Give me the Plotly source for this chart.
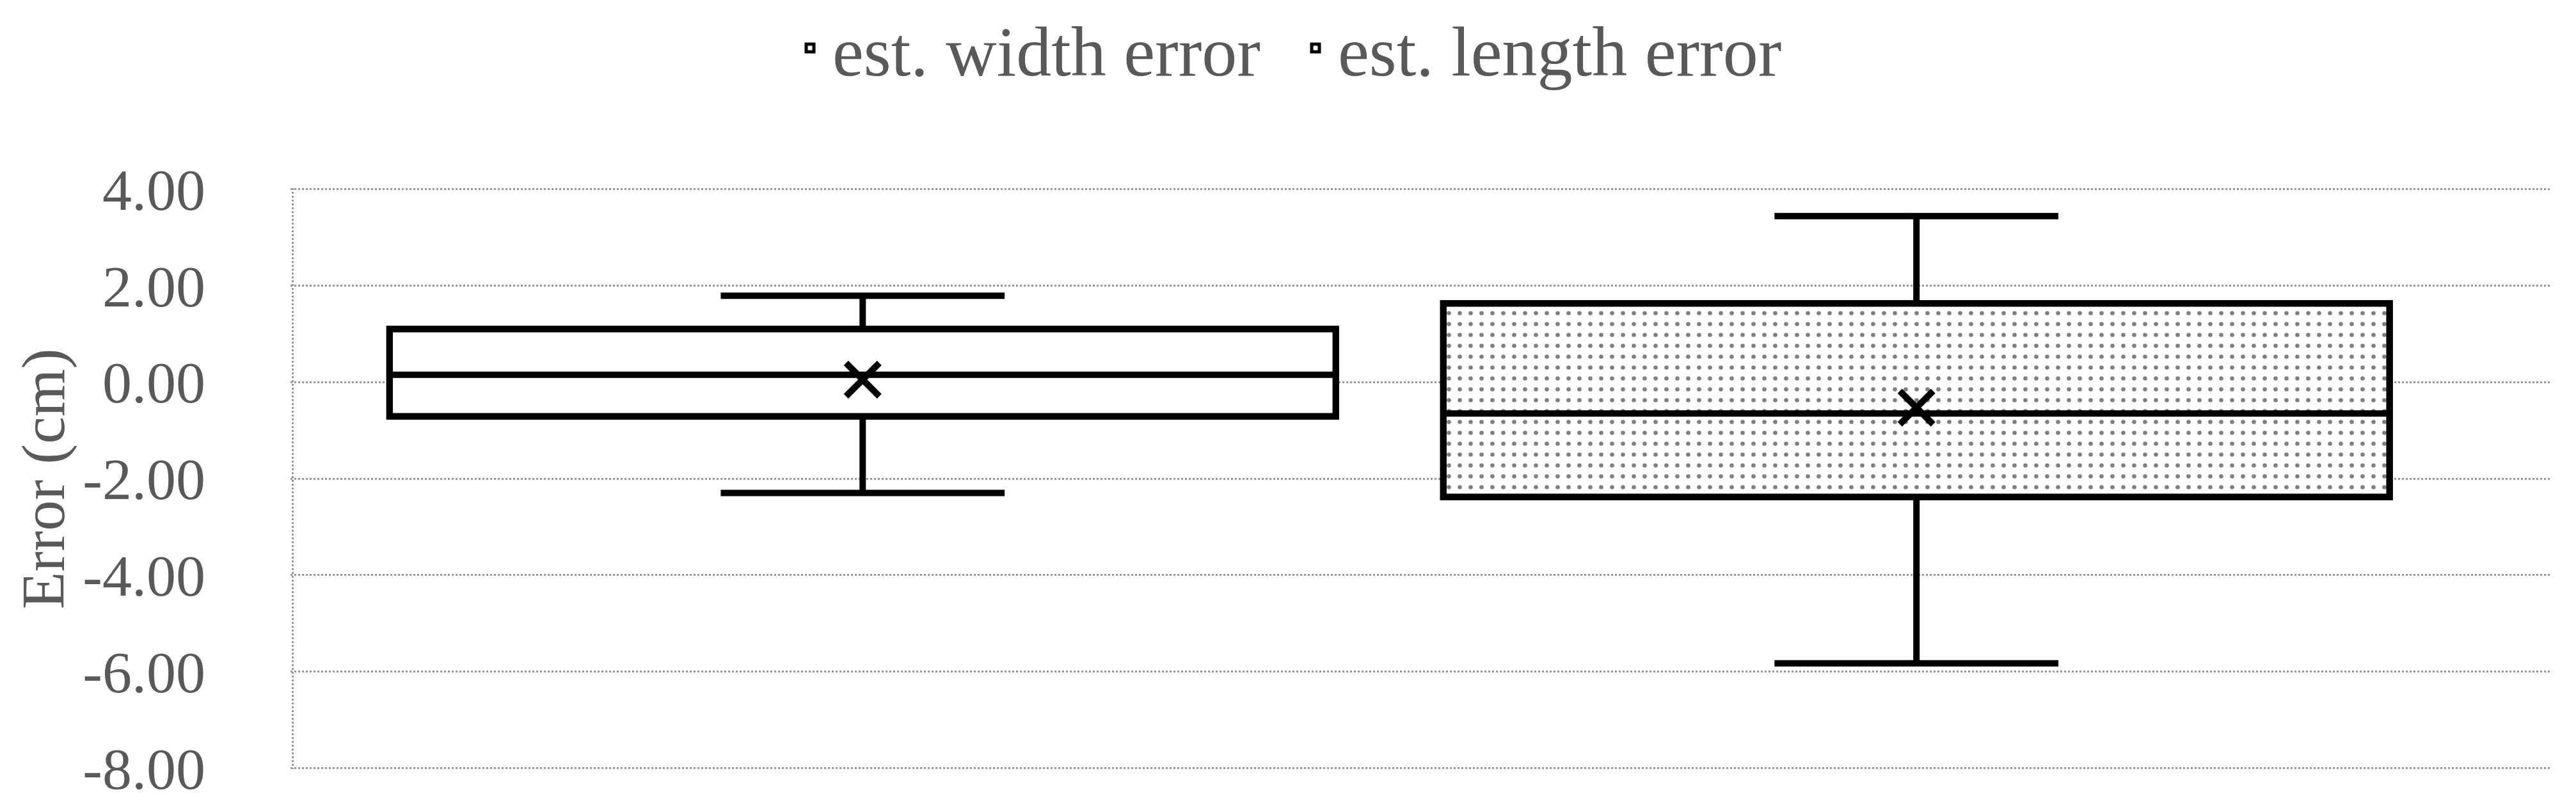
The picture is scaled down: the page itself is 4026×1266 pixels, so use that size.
import plotly.graph_objects as go

# ---- data ----
categories = ["est. width error", "est. length error"]
q1 = [-0.71, -2.38]
median = [0.15, -0.65]
q3 = [1.10, 1.63]
lower_whisker = [-2.30, -5.83]
upper_whisker = [1.79, 3.44]
means = [0.05, -0.53]
patterns = ["", "."]

y_ticks = [4, 2, 0, -2, -4, -6, -8]
y_tick_text = ["4.00", "2.00", "0.00", "-2.00", "-4.00", "-6.00", "-8.00"]
y_title = "Error (cm)"

# ---- styling ----
FONT = "Liberation Serif"
TXT = "#595959"
GRID = "#969696"
BOX_W = 0.898
X_RANGE = [-0.543, 1.601]
Y_RANGE = [-8.02, 4.02]
LW = 10

fig = go.Figure()

# filled rectangles (carry the fill pattern and the legend)
for i, cat in enumerate(categories):
    fig.add_trace(go.Bar(
        x=[cat], y=[q3[i] - q1[i]], base=[q1[i]], width=[BOX_W],
        name=cat, showlegend=True,
        marker=dict(color="white",
                    line=dict(color="black", width=LW),
                    pattern=dict(shape=patterns[i], fgcolor="black", bgcolor="white",
                                 size=17, solidity=0.12, fillmode="overlay")),
        hoverinfo="skip",
    ))

# box-and-whisker outlines
for i, cat in enumerate(categories):
    fig.add_trace(go.Box(
        x=[cat], q1=[q1[i]], median=[median[i]], q3=[q3[i]],
        lowerfence=[lower_whisker[i]], upperfence=[upper_whisker[i]],
        width=BOX_W, whiskerwidth=0.30,
        line=dict(color="black", width=LW),
        fillcolor="rgba(0,0,0,0)",
        boxpoints=False, showlegend=False, name=cat,
    ))

# mean markers
fig.add_trace(go.Scatter(
    x=categories, y=means, mode="markers", showlegend=False,
    marker=dict(symbol="x-thin", size=52, color="black",
                line=dict(color="black", width=LW)),
))

fig.update_layout(
    width=4026, height=1266,
    paper_bgcolor="white", plot_bgcolor="white",
    margin=dict(l=446, r=49, t=286, b=72),
    barmode="overlay", boxmode="overlay",
    font=dict(family=FONT, size=92, color=TXT),
    legend=dict(orientation="h", xref="container", yref="container",
                x=0.5, xanchor="center", y=0.947, yanchor="middle",
                font=dict(family=FONT, size=110, color=TXT),
                itemwidth=60, entrywidth=715, entrywidthmode="pixels",
                bgcolor="rgba(0,0,0,0)"),
    xaxis=dict(type="category", categoryorder="array", categoryarray=categories,
               range=X_RANGE, showticklabels=False, ticks="",
               tickmode="array", tickvals=[X_RANGE[0] + 0.002],
               showgrid=True, gridcolor=GRID, gridwidth=3, griddash="dot",
               zeroline=False, showline=False),
    yaxis=dict(range=Y_RANGE, tickmode="array", tickvals=y_ticks, ticktext=y_tick_text,
               showgrid=True, gridcolor=GRID, gridwidth=3, griddash="dot",
               zeroline=False, showline=False, ticks="",
               ticklabelstandoff=132,
               tickfont=dict(family=FONT, size=92, color=TXT)),
    annotations=[dict(text=y_title, textangle=-90, xref="paper", yref="paper",
                      x=-0.1095, y=0.5, xanchor="center", yanchor="middle",
                      showarrow=False,
                      font=dict(family=FONT, size=96, color=TXT))],
)

fig.write_html("out.html")
